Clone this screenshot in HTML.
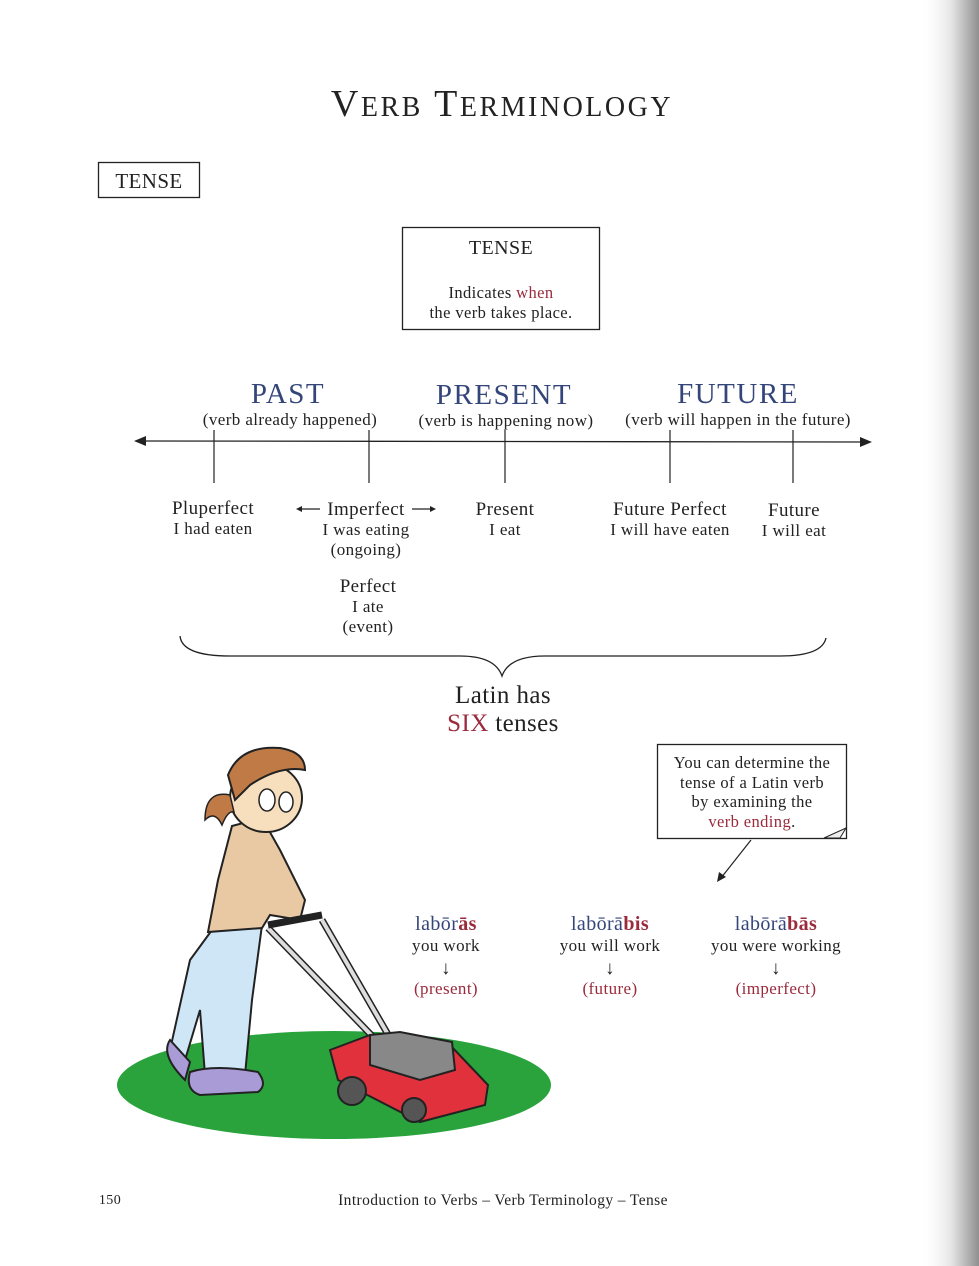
<!DOCTYPE html>
<html><head><meta charset="utf-8"><style>
html,body{margin:0;padding:0;background:#fff}
svg{display:block}
text{font-family:"Liberation Serif",serif;fill:#222;letter-spacing:0.4px}
.c{text-anchor:middle}
.r{fill:#9a2a3c}
.b{fill:#34457a}
</style></head><body>
<svg width="979" height="1266" viewBox="0 0 979 1266" xmlns="http://www.w3.org/2000/svg">
<defs>
<linearGradient id="edge" x1="0" x2="1" y1="0" y2="0">
<stop offset="0" stop-color="#fff" stop-opacity="0"/>
<stop offset="0.55" stop-color="#e2e2e2"/>
<stop offset="1" stop-color="#8f8f8f"/>
</linearGradient>
</defs>
<rect x="920" y="0" width="59" height="1266" fill="url(#edge)"/>

<text x="502" y="116" class="c" font-size="38" style="letter-spacing:2.5px">V<tspan font-size="28">ERB</tspan> T<tspan font-size="28">ERMINOLOGY</tspan></text>

<rect x="98.5" y="162.5" width="101" height="35" fill="none" stroke="#222" stroke-width="1.3"/>
<text x="149" y="188" class="c" font-size="21">TENSE</text>

<rect x="402.5" y="227.5" width="197" height="102" fill="none" stroke="#222" stroke-width="1.3"/>
<text x="501" y="254" class="c" font-size="20">TENSE</text>
<text x="501" y="298" class="c" font-size="16.5">Indicates <tspan class="r">when</tspan></text>
<text x="501" y="318" class="c" font-size="16.5">the verb takes place.</text>

<text x="288" y="403" class="c b" font-size="29" style="letter-spacing:1.5px">PAST</text>
<text x="290" y="425" class="c" font-size="17">(verb already happened)</text>
<text x="504" y="404" class="c b" font-size="29" style="letter-spacing:1.5px">PRESENT</text>
<text x="506" y="426" class="c" font-size="17">(verb is happening now)</text>
<text x="738" y="403" class="c b" font-size="29" style="letter-spacing:1.5px">FUTURE</text>
<text x="738" y="425" class="c" font-size="17">(verb will happen in the future)</text>

<line x1="142" y1="441" x2="864" y2="442" stroke="#222" stroke-width="1.3"/>
<polygon points="134,441 146,436 146,446" fill="#222"/>
<polygon points="872,442 860,437 860,447" fill="#222"/>
<g stroke="#222" stroke-width="1.2">
<line x1="214" y1="430" x2="214" y2="483"/>
<line x1="369" y1="430" x2="369" y2="483"/>
<line x1="505" y1="430" x2="505" y2="483"/>
<line x1="670" y1="430" x2="670" y2="483"/>
<line x1="793" y1="430" x2="793" y2="483"/>
</g>

<text x="213" y="514" class="c" font-size="19">Pluperfect</text>
<text x="213" y="534" class="c" font-size="17">I had eaten</text>
<text x="366" y="515" class="c" font-size="19">Imperfect</text>
<g stroke="#222" stroke-width="1.2"><line x1="298" y1="509" x2="320" y2="509"/><line x1="412" y1="509" x2="434" y2="509"/></g>
<polygon points="296,509 302,506 302,512" fill="#222"/><polygon points="436,509 430,506 430,512" fill="#222"/>
<text x="366" y="535" class="c" font-size="17">I was eating</text>
<text x="366" y="555" class="c" font-size="17">(ongoing)</text>
<text x="368" y="592" class="c" font-size="19">Perfect</text>
<text x="368" y="612" class="c" font-size="17">I ate</text>
<text x="368" y="632" class="c" font-size="17">(event)</text>
<text x="505" y="515" class="c" font-size="19">Present</text>
<text x="505" y="535" class="c" font-size="17">I eat</text>
<text x="670" y="515" class="c" font-size="19">Future Perfect</text>
<text x="670" y="535" class="c" font-size="17">I will have eaten</text>
<text x="794" y="516" class="c" font-size="19">Future</text>
<text x="794" y="536" class="c" font-size="17">I will eat</text>

<path d="M180 636 Q182 656 230 656 L460 656 Q495 656 502 676 Q509 656 545 656 L780 656 Q822 656 826 638" fill="none" stroke="#222" stroke-width="1.3"/>

<text x="503" y="703" class="c" font-size="25">Latin has</text>
<text x="503" y="731" class="c" font-size="25"><tspan class="r">SIX</tspan> tenses</text>

<rect x="657.5" y="744.5" width="189" height="94" fill="#fff" stroke="#222" stroke-width="1.3"/>
<path d="M824 838 L846 828 L840 838 Z" fill="#eee" stroke="#222"/>
<text x="752" y="768" class="c" font-size="16.5">You can determine the</text>
<text x="752" y="788" class="c" font-size="16.5">tense of a Latin verb</text>
<text x="752" y="807" class="c" font-size="16.5">by examining the</text>
<text x="752" y="827" class="c" font-size="16.5" style="fill:#9a2a3c">verb ending<tspan style="fill:#222">.</tspan></text>
<line x1="751" y1="840" x2="721" y2="878" stroke="#222" stroke-width="1.2"/>
<polygon points="717,882 719,872 726,877" fill="#222"/>

<text x="446" y="930" class="c" font-size="20" style="fill:#34457a">labōr<tspan style="fill:#9a2a3c;font-weight:bold">ās</tspan></text>
<text x="446" y="951" class="c" font-size="17">you work</text>
<text x="446" y="974" class="c" font-size="19">↓</text>
<text x="446" y="994" class="c r" font-size="17">(present)</text>
<text x="610" y="930" class="c" font-size="20" style="fill:#34457a">labōrā<tspan style="fill:#9a2a3c;font-weight:bold">bis</tspan></text>
<text x="610" y="951" class="c" font-size="17">you will work</text>
<text x="610" y="974" class="c" font-size="19">↓</text>
<text x="610" y="994" class="c r" font-size="17">(future)</text>
<text x="776" y="930" class="c" font-size="20" style="fill:#34457a">labōrā<tspan style="fill:#9a2a3c;font-weight:bold">bās</tspan></text>
<text x="776" y="951" class="c" font-size="17">you were working</text>
<text x="776" y="974" class="c" font-size="19">↓</text>
<text x="776" y="994" class="c r" font-size="17">(imperfect)</text>

<!-- illustration -->
<ellipse cx="334" cy="1085" rx="217" ry="54" fill="#2aa33c"/>
<path d="M212 930 L262 925 L252 1000 L245 1075 L205 1075 L200 1010 L185 1060 L170 1050 L190 960 Z" fill="#cfe6f7" stroke="#222" stroke-width="2"/>
<path d="M190 1072 Q215 1064 258 1072 Q268 1085 258 1092 L200 1095 Q185 1090 190 1072 Z" fill="#a99bd6" stroke="#222" stroke-width="2"/>
<path d="M170 1040 Q160 1055 185 1080 L190 1062 Z" fill="#a99bd6" stroke="#222" stroke-width="2"/>
<path d="M232 826 L262 818 L280 850 L305 900 L300 920 L270 915 L262 928 L208 932 L218 880 Z" fill="#e8c9a3" stroke="#222" stroke-width="2"/>
<ellipse cx="266" cy="798" rx="36" ry="34" fill="#f7dfbe" stroke="#222" stroke-width="2"/>
<path d="M228 775 Q240 745 280 748 Q305 752 305 770 Q280 765 250 785 L235 800 Z" fill="#c07a45" stroke="#222" stroke-width="2"/>
<path d="M230 795 Q205 790 205 820 Q215 810 222 825 Q228 810 234 812 Z" fill="#c07a45" stroke="#222" stroke-width="1.5"/>
<ellipse cx="267" cy="800" rx="8" ry="11" fill="#fff" stroke="#222" stroke-width="1.5"/>
<ellipse cx="286" cy="802" rx="7" ry="10" fill="#fff" stroke="#222" stroke-width="1.5"/>
<path d="M268 928 L376 1040 M322 920 L390 1038" stroke="#222" stroke-width="7" fill="none"/>
<path d="M268 928 L376 1040 M322 920 L390 1038" stroke="#ddd" stroke-width="4" fill="none"/>
<path d="M268 925 L322 915" stroke="#222" stroke-width="7"/>
<path d="M330 1050 L370 1035 L450 1045 L488 1085 L485 1105 L420 1122 L338 1080 Z" fill="#e0313c" stroke="#222" stroke-width="2"/>
<path d="M370 1035 L400 1032 L452 1042 L455 1070 L420 1080 L370 1065 Z" fill="#888" stroke="#222" stroke-width="2"/>
<circle cx="352" cy="1091" r="14" fill="#555" stroke="#222" stroke-width="2"/>
<circle cx="414" cy="1110" r="12" fill="#555" stroke="#222" stroke-width="2"/>

<text x="110" y="1204" class="c" font-size="14">150</text>
<text x="503" y="1205" class="c" font-size="15.5">Introduction to Verbs – Verb Terminology – Tense</text>
</svg>
</body></html>
